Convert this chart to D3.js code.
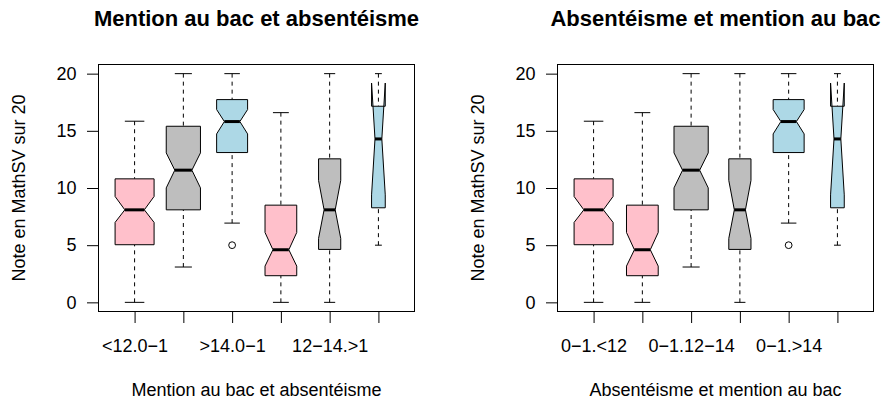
<!DOCTYPE html>
<html><head><meta charset="utf-8">
<script src="https://cdn.jsdelivr.net/npm/d3@7"></script>
<style>
body{margin:0;background:#fff}
text{font-family:"Liberation Sans",Arial,Helvetica,sans-serif;fill:#000}
</style></head>
<body><svg id="chart" width="883" height="406"></svg>
<script>
// ---- data (groups in "mention.absentéisme" order) ----
const groupKeys   = ["<12.0−1", "12−14.0−1", ">14.0−1", "<12.>1", "12−14.>1", ">14.>1"];
const lowWhisker  = [0, 3.09, 6.93, 0, 0, 5.0];
const lowerHinge  = [5.04, 8.09, 13.1, 2.33, 4.63, 8.27];
const medians     = [8.09, 11.56, 15.81, 4.6, 8.09, 14.29];
const upperHinge  = [10.8, 15.4, 17.73, 8.5, 12.55, 17.15];
const highWhisker = [15.84, 20, 20, 16.59, 20, 20];
const notchLow    = [6.99, 10.01, 14.73, 3.17, 5.59, 9.4];
const notchHigh   = [9.26, 13.07, 16.86, 6.11, 10.66, 19.18];
const groupSizes  = [65, 50, 41, 43, 21, 8];
const outliers    = [[], [], [5.0], [], [], []];
const mentionOf   = ["<12", "12-14", ">14", "<12", "12-14", ">14"];

// second panel: "absentéisme.mention" order
const orderRight  = [0, 3, 1, 4, 2, 5];
const labelsRight = ["0−1.<12", ">1.<12", "0−1.12−14", ">1.12−14", "0−1.>14", ">1.>14"];

const yTicks = [0, 5, 10, 15, 20];
const titles = ["Mention au bac et absentéisme", "Absentéisme et mention au bac"];
const yLabel = "Note en MathSV sur 20";

const mentionColors = {"<12": "#FFC0CB", "12-14": "#BEBEBE", ">14": "#ADD8E6"};

const svg = d3.select("#chart");
svg.append("rect").attr("width", 883).attr("height", 406).attr("fill", "#fff");

const plotTop = 64.5, plotBottom = 311.5;
const y = d3.scaleLinear().domain([-0.8, 20.8]).range([plotBottom, plotTop]);
const maxSqrt = Math.sqrt(d3.max(groupSizes));

function panel(left, right, order, labels, title) {
  const n = order.length;
  const pad = n * 0.04;
  const x = d3.scaleLinear().domain([0.5 - pad, n + 0.5 + pad]).range([left, right]);
  const g = svg.append("g");

  order.forEach((gi, k) => {
    const cx = x(k + 1);
    const hw = x(0.4 * Math.sqrt(groupSizes[gi]) / maxSqrt) - x(0);
    const nf = 0.5;
    g.append("line").attr("x1", cx).attr("x2", cx)
      .attr("y1", y(lowWhisker[gi])).attr("y2", y(lowerHinge[gi]))
      .attr("stroke", "#000").attr("stroke-dasharray", "4,4");
    g.append("line").attr("x1", cx).attr("x2", cx)
      .attr("y1", y(highWhisker[gi])).attr("y2", y(upperHinge[gi]))
      .attr("stroke", "#000").attr("stroke-dasharray", "4,4");
    [lowWhisker[gi], highWhisker[gi]].forEach(v => {
      g.append("line").attr("x1", cx - hw * 0.5).attr("x2", cx + hw * 0.5)
        .attr("y1", y(v)).attr("y2", y(v)).attr("stroke", "#000");
    });
    const pts = [
      [cx - hw, lowerHinge[gi]], [cx + hw, lowerHinge[gi]], [cx + hw, notchLow[gi]],
      [cx + nf * hw, medians[gi]], [cx + hw, notchHigh[gi]], [cx + hw, upperHinge[gi]],
      [cx - hw, upperHinge[gi]], [cx - hw, notchHigh[gi]], [cx - nf * hw, medians[gi]],
      [cx - hw, notchLow[gi]]
    ];
    g.append("path")
      .attr("d", d3.line().x(d => d[0]).y(d => y(d[1]))(pts) + "Z")
      .attr("fill", mentionColors[mentionOf[gi]])
      .attr("fill-rule", "nonzero")
      .attr("stroke", "#000").attr("stroke-width", 1).attr("stroke-linejoin", "round");
    g.append("line").attr("x1", cx - nf * hw).attr("x2", cx + nf * hw)
      .attr("y1", y(medians[gi])).attr("y2", y(medians[gi]))
      .attr("stroke", "#000").attr("stroke-width", 3);
    outliers[gi].forEach(v => {
      g.append("circle").attr("cx", cx).attr("cy", y(v)).attr("r", 3.4)
        .attr("fill", "none").attr("stroke", "#000");
    });
  });

  g.append("rect").attr("x", left).attr("y", plotTop)
    .attr("width", right - left).attr("height", plotBottom - plotTop)
    .attr("fill", "none").attr("stroke", "#000");

  const ya = g.append("g").attr("transform", `translate(${left},0)`)
    .call(d3.axisLeft(y).tickValues(yTicks).tickSize(11.5).tickPadding(10.5).tickSizeOuter(0));
  ya.select(".domain").attr("d", `M0,${y(0)}V${y(20)}`);
  ya.selectAll("text").style("font-size", "18px").style("font-family", '"Liberation Sans", Arial, sans-serif');

  const xa = g.append("g").attr("transform", `translate(0,${plotBottom})`)
    .call(d3.axisBottom(x).tickValues(d3.range(1, n + 1)).tickFormat((d, i) => labels[i])
      .tickSize(11.5).tickPadding(16).tickSizeOuter(0));
  xa.select(".domain").attr("d", `M${x(1)},0H${x(n)}`);
  xa.selectAll("text").style("font-size", "18px").style("font-family", '"Liberation Sans", Arial, sans-serif');
  let lastRight = -Infinity;
  xa.selectAll(".tick").each(function (d) {
    const t = d3.select(this).select("text");
    const w = t.node().getComputedTextLength();
    const cxT = x(d);
    const l = cxT - w / 2, r = cxT + w / 2;
    if (l < lastRight + 6) t.remove();
    else lastRight = r;
  });

  const mid = (left + right) / 2;
  g.append("text").attr("x", mid).attr("y", 26).attr("text-anchor", "middle")
    .style("font-size", "22px").style("font-weight", "bold").text(title);
  g.append("text").attr("x", mid).attr("y", 396).attr("text-anchor", "middle")
    .style("font-size", "18px").text(title);
  g.append("text").attr("transform", `translate(${left - 73.5},${(plotTop + plotBottom) / 2}) rotate(-90)`)
    .attr("text-anchor", "middle").style("font-size", "18px").text(yLabel);
}

panel(98.5, 414.5, [0, 1, 2, 3, 4, 5], groupKeys, titles[0]);
panel(557.5, 873.5, orderRight, labelsRight, titles[1]);
</script></body></html>
